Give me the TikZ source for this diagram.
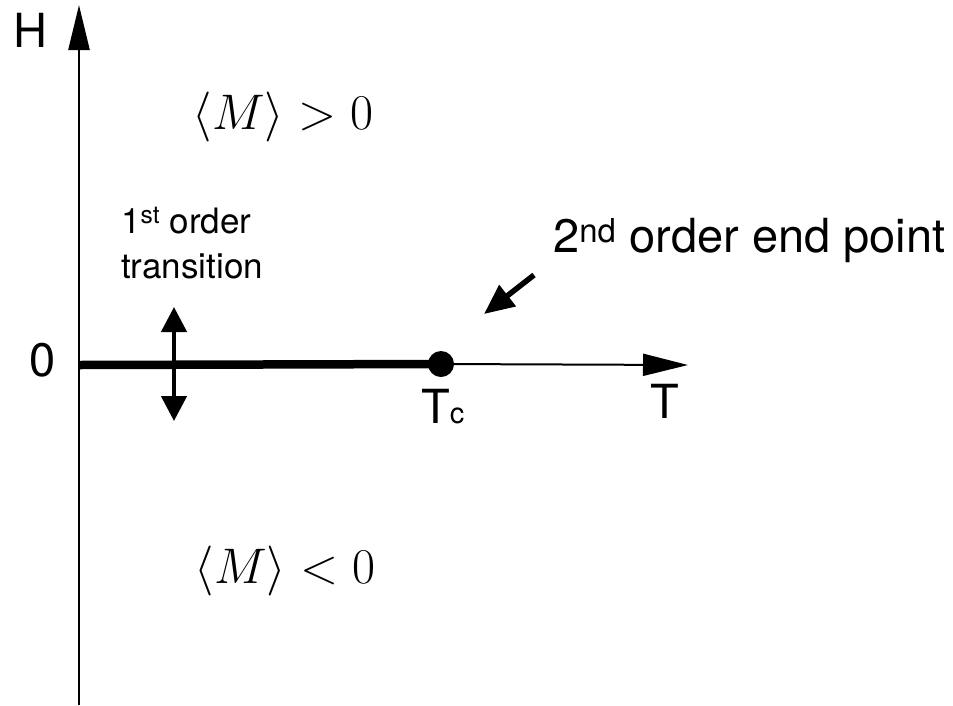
\documentclass[tikz,border=0pt]{standalone}
\usepackage{fontspec}
\newfontfamily\helv{TeX Gyre Heros}
\usetikzlibrary{arrows.meta}
\begin{document}
\begin{tikzpicture}[x=1pt,y=-1pt,
  lbl/.style={font=\helv\fontsize{47}{50}\selectfont, inner sep=0pt},
  smalllbl/.style={font=\helv\fontsize{35}{40}\selectfont, inner sep=0pt},
  mathlbl/.style={font=\Huge, scale=2.01, inner sep=0pt},
  axis/.style={line width=2.5pt},
  bigtip/.style={-{Triangle[length=45pt,width=21pt]}},
  dot/.style={circle, fill=black, minimum size=26pt, inner sep=0pt}]
\useasboundingbox (0,0) rectangle (953,705);
% coordinates
\coordinate (O) at (79,365);
\coordinate (Hbot) at (79,705);
\coordinate (Htop) at (79,5);
\coordinate (Tend) at (688,365);
\coordinate (up) at (174,307);
\coordinate (down) at (174,421);
\coordinate (ptail) at (534,275);
\coordinate (phead) at (484,314);
\node[dot] (Tc) at (441,364) {};
% axes
\draw[axis, bigtip] (Hbot) -- (Htop);
\draw[line width=2pt, -{Triangle[length=45pt,width=22pt]}] (Tc.center) -- (Tend);
\draw[line width=8.5pt] (O) -- (Tc.center);
% double arrow
\draw[line width=4.5pt, {Triangle[length=25pt,width=25pt]}-{Triangle[length=25pt,width=25pt]}] (up) -- (down);
% pointer arrow
\draw[line width=5.5pt, -{Triangle[length=30pt,width=26pt]}] (ptail) -- (phead);
% labels
\node[lbl, anchor=base] (H) at (30,47) {H};
\node[lbl, anchor=base] (zero) at (43,376) {0};
\node[lbl, anchor=base] (T) at (665,418) {T};
\node[lbl, anchor=base west] (Tclbl) at (421,423) {T{\fontsize{29}{30}\selectfont c}};
\node[mathlbl, anchor=base] (Mpos) at (283,129) {$\langle M\rangle > 0$};
\node[mathlbl, anchor=base] (Mneg) at (285,583) {$\langle M\rangle < 0$};
\node[smalllbl, anchor=base west] (first) at (121,233) {1\textsuperscript{st} order};
\node[smalllbl, anchor=base west] (trans) at (121,278) {transition};
\node[lbl, anchor=base west] (second) at (553,252) {2\textsuperscript{nd} order end point};
\end{tikzpicture}
\end{document}
